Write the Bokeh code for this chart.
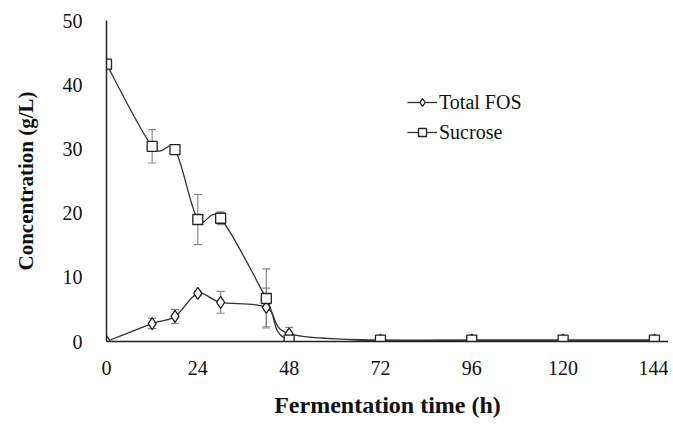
from bokeh.plotting import figure
from bokeh.models import ColumnDataSource, Whisker, Legend, LegendItem, FixedTicker, Range1d
from bokeh.embed import file_html
from bokeh.resources import INLINE

time_h = [0, 12, 18, 24, 30, 42, 48, 72, 96, 120, 144]
sucrose = [43.2, 30.4, 29.9, 19.0, 19.2, 6.7, 0.2, 0.2, 0.2, 0.2, 0.2]
sucrose_err = [0, 2.6, 0, 3.9, 1.0, 4.6, 0, 0, 0, 0, 0]
fos = [0.0, 2.8, 3.9, 7.5, 6.1, 5.3, 1.2, 0.2, 0.2, 0.2, 0.2]
fos_err = [0, 0.8, 1.1, 0.4, 1.7, 3.0, 1.0, 0, 0, 0, 0]
x_ticks = [0, 24, 48, 72, 96, 120, 144]
y_ticks = [0, 10, 20, 30, 40, 50]

FONT = "Liberation Serif"

p = figure(width=668, height=424, output_backend="svg", toolbar_location=None,
           x_range=Range1d(0, 147.7), y_range=Range1d(0, 50),
           min_border_left=106, min_border_right=0, min_border_top=20, min_border_bottom=83)
p.outline_line_color = None
p.grid.grid_line_color = None

for ax in (p.xaxis[0], p.yaxis[0]):
    ax.axis_line_color = "#222222"
    ax.axis_line_width = 1.5
    ax.major_tick_line_color = None
    ax.minor_tick_line_color = None
    ax.major_label_text_font = FONT
    ax.major_label_text_font_size = "20px"
    ax.major_label_text_color = "#111111"
    ax.axis_label_text_font = FONT
    ax.axis_label_text_font_style = "bold"
    ax.axis_label_text_color = "#111111"

p.xaxis.ticker = FixedTicker(ticks=x_ticks)
p.yaxis.ticker = FixedTicker(ticks=y_ticks)
p.xaxis.axis_label = "Fermentation time (h)"
p.yaxis.axis_label = "Concentration (g/L)"
p.xaxis.axis_label_text_font_size = "24px"
p.yaxis.axis_label_text_font_size = "21px"
p.xaxis.major_label_standoff = 13
p.yaxis.major_label_standoff = 18
p.xaxis.axis_label_standoff = 14
p.yaxis.axis_label_standoff = 22


def bezier_source(xs, ys):
    n = len(xs)
    d = dict(x0=[], y0=[], x1=[], y1=[], cx0=[], cy0=[], cx1=[], cy1=[])
    for i in range(n - 1):
        im = max(i - 1, 0)
        ip2 = min(i + 2, n - 1)
        d["x0"].append(xs[i]); d["y0"].append(ys[i])
        d["x1"].append(xs[i + 1]); d["y1"].append(ys[i + 1])
        d["cx0"].append(xs[i] + (xs[i + 1] - xs[im]) / 6)
        d["cy0"].append(ys[i] + (ys[i + 1] - ys[im]) / 6)
        d["cx1"].append(xs[i + 1] - (xs[ip2] - xs[i]) / 6)
        d["cy1"].append(ys[i + 1] - (ys[ip2] - ys[i]) / 6)
    return ColumnDataSource(d)


LINE_C = "#333333"
items = []
for name, vals, errs, marker, size in [("Total FOS", fos, fos_err, "diamond", 12),
                                       ("Sucrose", sucrose, sucrose_err, "square", 10)]:
    src = ColumnDataSource(dict(x=time_h, y=vals,
                                lo=[v - e for v, e in zip(vals, errs)],
                                hi=[v + e for v, e in zip(vals, errs)]))
    w = Whisker(source=src, base="x", lower="lo", upper="hi", line_color="#888888", line_width=1.2)
    w.upper_head.line_color = "#888888"
    w.lower_head.line_color = "#888888"
    w.upper_head.line_width = 1.2
    w.lower_head.line_width = 1.2
    w.upper_head.size = 8
    w.lower_head.size = 8
    p.add_layout(w)
    bz = p.bezier(x0="x0", y0="y0", x1="x1", y1="y1", cx0="cx0", cy0="cy0", cx1="cx1", cy1="cy1",
                  source=bezier_source(time_h, vals), line_color=LINE_C, line_width=1.3)
    sc = p.scatter("x", "y", source=src, marker=marker, size=size, fill_color="white",
                   line_color="#222222", line_width=1.3)
    items.append(LegendItem(label=name, renderers=[bz, sc]))

legend = Legend(items=items, location=(301, 197), border_line_color=None,
                background_fill_alpha=0, label_text_font=FONT, label_text_font_size="20px",
                label_text_color="#111111", glyph_width=30, glyph_height=20, label_height=24,
                spacing=6, padding=0, label_standoff=2, margin=0)
p.add_layout(legend, "center")

open("out.html", "w").write(file_html(p, INLINE))
